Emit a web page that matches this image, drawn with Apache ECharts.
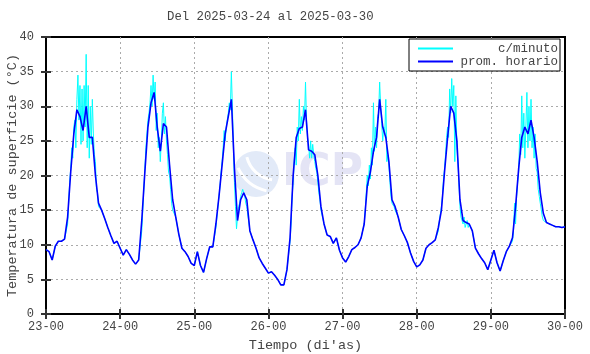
<!DOCTYPE html>
<html><head><meta charset="utf-8">
<script src="https://cdn.jsdelivr.net/npm/echarts@6/dist/echarts.min.js"></script>
<style>html,body{margin:0;padding:0;background:#fff}#c{width:590px;height:354px}</style>
</head><body><div id="c"></div>
<script>
const titleText = 'Del 2025-03-24 al 2025-03-30';
const dayLabels = ['23-00','24-00','25-00','26-00','27-00','28-00','29-00','30-00'];
const yTicks = [0,5,10,15,20,25,30,35,40];
const seriesNames = ['c/minuto','prom. horario'];
// hourly average (prom. horario), one value per hour from 23-00 to 30-00
const hourly = [
 9.3, 9.0, 7.8, 9.8,10.5,10.5,10.8,14.0,20.5,26.0,29.5,28.5,26.5,30.0,25.5,25.5,20.0,16.0,15.0,13.8,12.5,11.3,10.2,10.5,
 9.5, 8.5, 9.3, 8.6, 7.8, 7.2, 7.8,13.5,20.5,27.0,30.5,32.0,27.0,23.5,27.5,27.0,21.5,16.5,14.0,11.5, 9.5, 9.0, 8.3, 7.3,
 7.0, 9.0, 7.0, 6.0, 8.0, 9.7, 9.7,13.0,17.0,21.5,26.0,28.5,31.0,21.0,13.5,16.5,17.5,16.5,12.0,10.7, 9.5, 8.1, 7.3, 6.6,
 5.9, 6.1, 5.6, 5.0, 4.2, 4.2, 6.4,11.0,20.0,25.5,26.8,27.0,29.5,23.7,23.5,23.0,20.0,15.5,13.0,11.4,11.2,10.2,11.0, 9.2,
 8.1, 7.5, 8.3, 9.3, 9.6,10.0,11.0,13.0,18.5,20.5,23.5,25.5,31.0,27.0,25.5,22.0,16.5,15.5,14.0,12.2,11.3,10.3, 8.8, 7.6,
 6.8, 7.1, 7.8, 9.5,10.0,10.3,10.7,12.5,15.0,20.5,25.5,30.0,29.0,25.0,16.5,13.5,13.2,13.0,12.0, 9.5, 8.7, 8.0, 7.4, 6.4,
 7.8, 9.2, 7.4, 6.2, 7.7, 9.0, 9.8,11.0,15.5,21.0,25.5,27.0,26.0,28.0,25.5,22.0,17.5,14.5,13.2,13.0,12.8,12.6,12.6,12.5,
 12.6
];
// per-minute readings during daytime, every 20 min from 07:00 to 17:00 of each day
const minute23 = [13,16,19,21,24,22.5,27,28,24,31,34.5,28,33,24.5,32.5,25,33,27,37.5,24,33,22.5,30,24.5,31,26,23,22,18,17.5,15.5];
const minute24 = [12,15,18,21,24,26,28,29,30.5,33,30,34.5,31,33.5,26.5,29,24,25.5,22,25,29,30.5,26,28.5,25,23,20.5,20,18,16,15];
const minute25 = [12.5,14,15.5,17,18.5,20.5,22,24,26.5,25,27,28,29,30.5,29.5,35,30,24,19,15.5,12.3,14,15.5,16,17,17.5,18,17.5,17,16,15.5];
const minute26 = [10.5,13,17,19,22,24,21.5,27,25,31,26,28.5,26.5,30,28,33.5,28,25.5,24.5,22.5,25,22.5,24.5,23,22,21,20.5,19,17.5,16.5,15];
const minute27 = [13,15,17.5,20,18.5,21.5,19.5,24,21.5,30.5,23.5,27,24,28.5,29,33.5,30,27.5,25,27,26,31,22,23,21.5,19,17,16,16,15.5,15];
const minute28 = [12,13.5,14.5,15.5,17,19.5,21,23,25.5,27,25.5,32.5,29,34,30,33,22,31.5,24,22,19,15.5,14,13.5,13,14,12.5,13,13.5,12.5,13];
const minute29 = [10.5,12,16,13,17,19,20.5,26,23,31.5,24,29,22.5,27,32,24,30,25,31,24,27,22.5,26,21,20.5,18,17,16,15,14,13.5];
const minuteDays = [minute23,minute24,minute25,minute26,minute27,minute28,minute29];

const hourlyData = hourly.map((v,i)=>[i,v]);
const minuteData = [];
minuteDays.forEach((arr,d)=>{
  for(let h=0;h<7;h++) minuteData.push([d*24+h, hourly[d*24+h]]);
  arr.forEach((v,k)=>minuteData.push([d*24+7+k/3, v]));
  for(let h=18;h<24;h++) minuteData.push([d*24+h, hourly[d*24+h]]);
});
minuteData.push([168, hourly[168]]);

const FONT = 'Liberation Mono';
const TXT = '#444';
const tickStyle = {show:true,inside:true,length:5,lineStyle:{color:'#333',width:2}};
const gridLine = {show:true,showMinLine:false,showMaxLine:false,lineStyle:{color:'#aaa',type:[2,3],width:1}};
const chart = echarts.init(document.getElementById('c'), null, {renderer:'canvas'});
chart.setOption({
  animation:false,
  backgroundColor:'#fff',
  title:{text:titleText,left:167,top:11,padding:0,textStyle:{fontFamily:FONT,fontSize:12.3,fontWeight:'normal',color:TXT}},
  grid:{left:46,right:25,top:37,bottom:40,show:true,borderColor:'#000',borderWidth:2,backgroundColor:'transparent',outerBoundsMode:'none',containLabel:false},
  legend:{
    left:409,top:39,orient:'vertical',itemWidth:35,itemHeight:11,itemGap:0,itemTextGap:5,
    itemStyle:{opacity:0},
    padding:[3,2,3,8],borderColor:'#000',borderWidth:1,backgroundColor:'#fff',
    data:seriesNames,
    formatter:n=>'{a|'+n+'}',
    textStyle:{fontFamily:FONT,fontSize:12.5,color:TXT,lineHeight:11,rich:{a:{width:100,align:'right',fontFamily:FONT,fontSize:12.5,color:TXT,lineHeight:11}}}
  },
  xAxis:[{
    type:'value',min:0,max:168,interval:24,
    name:'Tiempo (di\'as)',nameLocation:'middle',nameGap:24,nameMoveOverlap:false,
    nameTextStyle:{fontFamily:FONT,fontSize:13.5,color:TXT},
    axisLine:{show:false},
    axisTick:tickStyle,
    axisLabel:{fontFamily:FONT,fontSize:12,color:TXT,margin:7,formatter:v=>dayLabels[Math.round(v/24)]},
    splitLine:gridLine
  },{
    type:'value',min:0,max:168,interval:24,position:'top',
    axisLine:{show:false},axisLabel:{show:false},splitLine:{show:false},
    axisTick:tickStyle
  }],
  yAxis:[{
    type:'value',min:0,max:40,interval:5,
    name:'Temperatura de superficie (°C)',nameLocation:'middle',nameGap:27,nameRotate:90,nameMoveOverlap:false,
    nameTextStyle:{fontFamily:FONT,fontSize:13.5,color:TXT},
    axisLine:{show:false},
    axisTick:tickStyle,
    axisLabel:{fontFamily:FONT,fontSize:12,color:TXT,margin:12,formatter:v=>yTicks.includes(v)?String(v):''},
    splitLine:gridLine
  },{
    type:'value',min:0,max:40,interval:5,position:'right',
    axisLine:{show:false},axisLabel:{show:false},splitLine:{show:false},
    axisTick:tickStyle
  }],
  graphic:[
    {type:'circle',z:0,shape:{cx:256,cy:174,r:23},style:{fill:'#e2eaf8'}},
    {type:'arc',z:0,shape:{cx:276,cy:150,r:30,startAngle:1.7,endAngle:2.9},style:{stroke:'#fff',lineWidth:3,fill:null}},
    {type:'arc',z:0,shape:{cx:276,cy:150,r:42,startAngle:1.8,endAngle:2.7},style:{stroke:'#fff',lineWidth:3,fill:null}},
    {type:'text',z:0,left:282,top:152,style:{text:'ICP',fontFamily:'DejaVu Sans',fontWeight:'bold',fontSize:44,fill:'#e4e4f5'}}
  ],
  series:[
    {name:seriesNames[0],type:'line',data:minuteData,symbol:'none',lineStyle:{color:'#00ffff',width:1},itemStyle:{color:'#00ffff'},z:3},
    {name:seriesNames[1],type:'line',data:hourlyData,symbol:'none',lineStyle:{color:'#0000ff',width:1.6},itemStyle:{color:'#0000ff'},z:4}
  ]
});
</script></body></html>
